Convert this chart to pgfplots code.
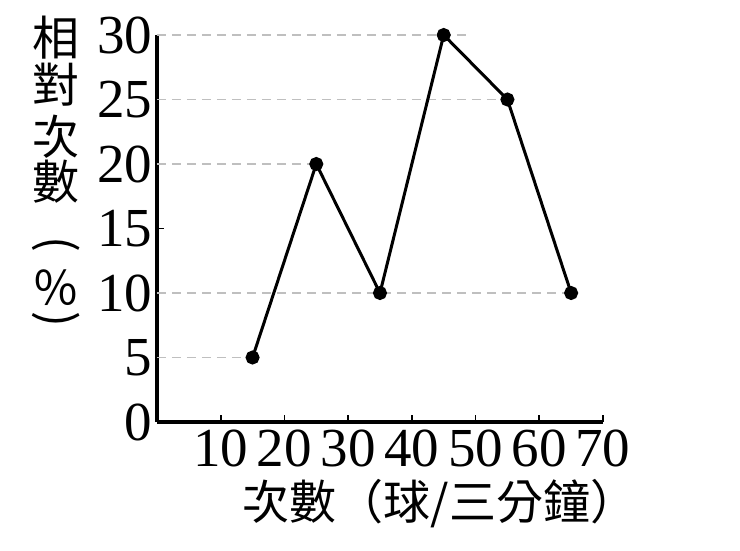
\documentclass[border=0pt]{standalone}
\usepackage{pgfplots}
\pgfplotsset{compat=1.18}
\usepackage{fontspec}
\setmainfont{Liberation Serif}
\newfontfamily\cjk{Noto Sans CJK TC}
\usepackage{graphicx}

\begin{document}
\begin{tikzpicture}
  \begin{axis}[
      at={(0,0)}, anchor=origin,
      scale only axis, width=446pt, height=387pt,
      xmin=0, xmax=70, ymin=0, ymax=30,
      axis lines*=left,
      axis line style={line width=3.2pt},
      xtick={10,20,...,70}, ytick={0,5,...,30},
      tick align=inside, major tick length=7pt,
      tick style={line width=1.8pt, black},
      ticklabel style={font=\fontsize{55}{58}\selectfont},
      /pgf/number format/assume math mode=true,
      xticklabel style={yshift=-4pt},
      yticklabel style={xshift=-1pt},
      clip=false,
    ]
    % dashed guide lines
    \addplot [gray!50, line width=1.4pt, dash pattern=on 9pt off 6pt] coordinates {(0,5) (15,5)};
    \addplot [gray!50, line width=1.4pt, dash pattern=on 9pt off 6pt] coordinates {(0,10) (65,10)};
    \addplot [gray!50, line width=1.4pt, dash pattern=on 9pt off 6pt] coordinates {(0,20) (25,20)};
    \addplot [gray!50, line width=1.4pt, dash pattern=on 9pt off 6pt] coordinates {(0,25) (55,25)};
    \addplot [gray!50, line width=1.4pt, dash pattern=on 9pt off 6pt] coordinates {(0,30) (49,30)};

    \addplot [black, line width=3pt, mark=*, mark size=5.5pt] coordinates {
      (15,5) (25,20) (35,10) (45,30) (55,25) (65,10)};

    % axis titles
    \node [font=\cjk\fontsize{47}{47}\selectfont] at (axis cs:44.4,-6.3) {次數（球/三分鐘）};
    \begin{scope}[every node/.style={font=\cjk\fontsize{47}{47}\selectfont}]
      \node at (axis cs:-15.85,29.77) {相};
      \node at (axis cs:-15.85,26.12) {對};
      \node at (axis cs:-15.85,22.09) {次};
      \node at (axis cs:-15.85,18.6) {數};
      \node at (axis cs:-15.85,13.49) {\rotatebox[origin=c]{-90}{(}};
      \node at (axis cs:-15.85,10.39) {％};
      \node at (axis cs:-15.85,7.67) {\rotatebox[origin=c]{-90}{)}};
    \end{scope}
  \end{axis}
  \useasboundingbox (-157pt,-128pt) rectangle (583pt,422pt);
\end{tikzpicture}
\end{document}
